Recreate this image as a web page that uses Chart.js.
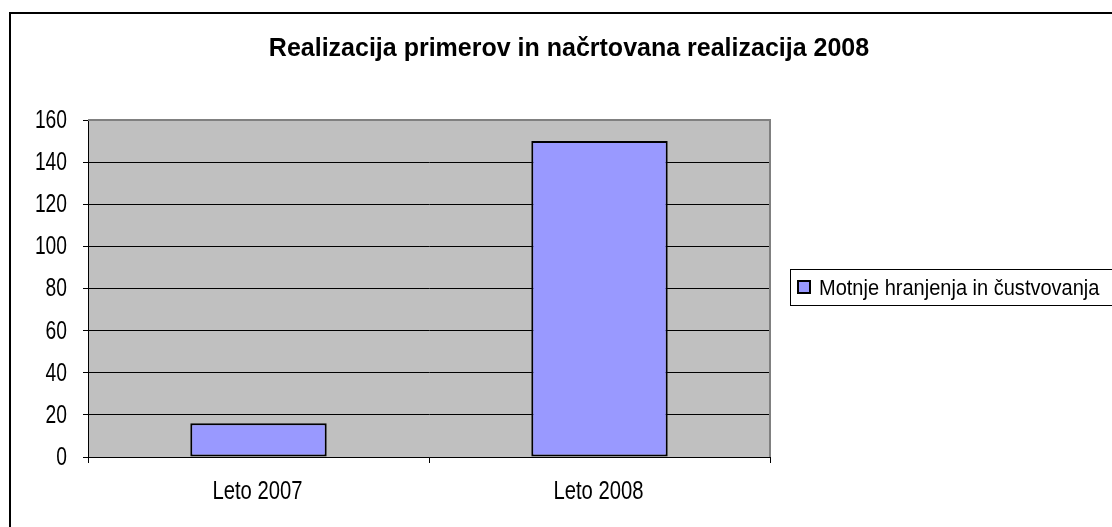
<!DOCTYPE html>
<html>
<head>
<meta charset="utf-8">
<script src="https://cdn.jsdelivr.net/npm/chart.js@4/dist/chart.umd.min.js"></script>
<style>
  html, body { margin: 0; padding: 0; background: #fff; }
  #wrap { width: 1112px; height: 527px; }
</style>
</head>
<body>
<div id="wrap"><canvas id="myChart" width="1112" height="527"></canvas></div>
<script>
// chart data
const categories = ["Leto 2007", "Leto 2008"];
const seriesName = "Motnje hranjenja in čustvovanja";
const values = [16, 150];
const chartTitle = "Realizacija primerov in načrtovana realizacija 2008";

const FONT = "'Liberation Sans', Arial, sans-serif";

// draw text squeezed horizontally (the original uses a narrow looking font)
function narrowText(ctx, text, x, y, align, squeeze) {
  ctx.save();
  ctx.translate(x, y);
  ctx.scale(squeeze, 1);
  ctx.textAlign = align;
  ctx.textBaseline = "middle";
  ctx.fillText(text, 0, 0);
  ctx.restore();
}

// excel style frame, plot background, title, tick labels and legend box
const excelLook = {
  id: "excelLook",
  beforeDraw(chart) {
    const { ctx, chartArea } = chart;
    ctx.save();
    ctx.fillStyle = "#fff";
    ctx.fillRect(0, 0, chart.width, chart.height);
    ctx.strokeStyle = "#000";
    ctx.lineWidth = 2;
    ctx.strokeRect(10, 13, 1300, 700);
    ctx.fillStyle = "#C0C0C0";
    ctx.fillRect(chartArea.left, chartArea.top, chartArea.right - chartArea.left, chartArea.bottom - chartArea.top);
    // title
    ctx.fillStyle = "#000";
    ctx.font = "bold 25px " + FONT;
    ctx.textAlign = "center";
    ctx.textBaseline = "middle";
    ctx.fillText(chartTitle, 569, 49);
    ctx.restore();
  },
  beforeDatasetsDraw(chart) {
    const { ctx, chartArea } = chart;
    ctx.save();
    ctx.strokeStyle = "#808080";
    ctx.lineWidth = 2;
    ctx.beginPath();
    ctx.moveTo(chartArea.left, chartArea.top);
    ctx.lineTo(chartArea.right, chartArea.top);
    ctx.lineTo(chartArea.right, chartArea.bottom);
    ctx.stroke();
    ctx.restore();
  },
  afterDraw(chart) {
    const { ctx } = chart;
    const ds = chart.data.datasets[0];
    const xs = chart.scales.x;
    const ys = chart.scales.y;
    ctx.save();
    ctx.fillStyle = "#000";
    ctx.font = "25px " + FONT;
    // y tick labels
    ys.ticks.forEach((t, i) => {
      narrowText(ctx, String(t.value), 67, ys.getPixelForTick(i) + 1, "right", 0.77);
    });
    // x tick labels
    xs.ticks.forEach((t, i) => {
      narrowText(ctx, xs.getLabelForValue(t.value), xs.getPixelForTick(i) - 1, 492, "center", 0.81);
    });
    // legend box
    ctx.strokeStyle = "#000";
    ctx.lineWidth = 1;
    ctx.strokeRect(790.5, 269.5, 400, 36);
    ctx.fillStyle = ds.backgroundColor;
    ctx.fillRect(798, 281, 12, 12);
    ctx.lineWidth = 2;
    ctx.strokeRect(798, 281, 12, 12);
    ctx.fillStyle = "#000";
    ctx.font = "22px " + FONT;
    narrowText(ctx, ds.label, 819, 289, "left", 0.91);
    ctx.restore();
  }
};

const ctx = document.getElementById("myChart").getContext("2d");
const myChart = new Chart(ctx, {
  type: "bar",
  data: {
    labels: categories,
    datasets: [
      {
        label: seriesName,
        data: values,
        backgroundColor: "#9999FF",
        borderColor: "#000",
        borderWidth: 2,
        borderSkipped: false,
        barPercentage: 0.4,
        categoryPercentage: 1
      }
    ]
  },
  options: {
    responsive: false,
    animation: false,
    devicePixelRatio: 1,
    layout: { padding: { left: 28, right: 342, top: 120, bottom: 20 } },
    plugins: {
      legend: { display: false },
      title: { display: false },
      tooltip: { enabled: false }
    },
    scales: {
      x: {
        afterFit: (scale) => { scale.height = 50; },
        grid: { display: true, drawOnChartArea: false, drawTicks: true, tickLength: 6, color: "#000", offset: true },
        border: { display: true, color: "#000", width: 1 },
        ticks: { display: false }
      },
      y: {
        min: 0,
        max: 160,
        afterFit: (scale) => { scale.width = 60; },
        grid: { color: "#000", lineWidth: 1, drawTicks: true, tickLength: 5 },
        border: { display: true, color: "#000", width: 1 },
        ticks: { stepSize: 20, display: false }
      }
    }
  },
  plugins: [excelLook]
});
</script>
</body>
</html>
